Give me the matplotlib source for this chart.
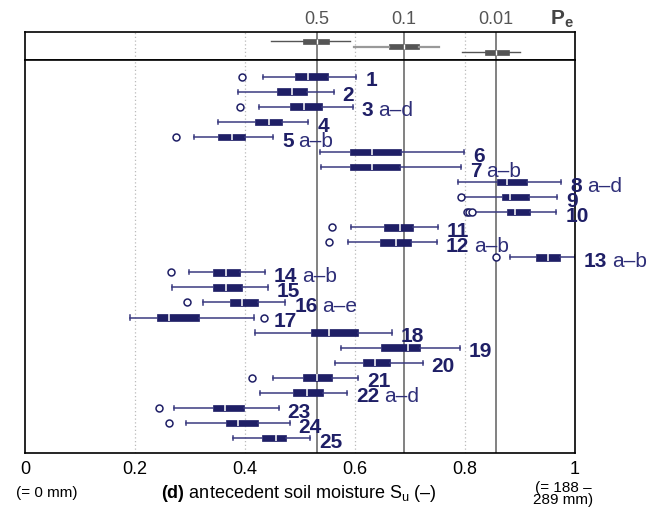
import matplotlib
matplotlib.use("Agg")
import matplotlib.pyplot as plt
from matplotlib import font_manager

plt.rcParams["font.family"] = ["Liberation Sans", "DejaVu Sans"]
plt.rcParams["mathtext.fontset"] = "custom"
plt.rcParams["mathtext.rm"] = "Liberation Sans"
plt.rcParams["mathtext.bf"] = "Liberation Sans:bold"

installed = {f.name for f in font_manager.fontManager.ttflist}
if "Liberation Sans Narrow" in installed:
    LABEL_FONT, LABEL_SIZE = ["Liberation Sans Narrow", "DejaVu Sans"], 17.5
else:
    LABEL_FONT, LABEL_SIZE = ["Liberation Sans", "DejaVu Sans"], 15

# antecedent soil moisture per event group (horizontal boxplots)
whislo = [0.433, 0.388, 0.425, 0.350, 0.308, 0.536, 0.539, 0.787, 0.799, 0.815,
          0.592, 0.587, 0.881, 0.299, 0.268, 0.324, 0.190, 0.418, 0.574, 0.564,
          0.451, 0.428, 0.270, 0.292, 0.379]
q1 = [0.491, 0.458, 0.482, 0.418, 0.350, 0.590, 0.590, 0.859, 0.867, 0.876,
      0.653, 0.646, 0.929, 0.342, 0.342, 0.373, 0.240, 0.520, 0.647, 0.614,
      0.505, 0.487, 0.341, 0.365, 0.430]
med = [0.514, 0.485, 0.507, 0.444, 0.376, 0.630, 0.630, 0.876, 0.882, 0.891,
       0.681, 0.674, 0.951, 0.366, 0.366, 0.395, 0.261, 0.553, 0.697, 0.636,
       0.530, 0.512, 0.364, 0.387, 0.456]
q3 = [0.550, 0.512, 0.540, 0.467, 0.400, 0.684, 0.681, 0.912, 0.916, 0.919,
      0.705, 0.702, 0.973, 0.391, 0.394, 0.424, 0.316, 0.605, 0.718, 0.663,
      0.558, 0.541, 0.398, 0.423, 0.475]
whishi = [0.602, 0.561, 0.596, 0.515, 0.451, 0.799, 0.792, 0.975, 0.967, 0.966,
          0.750, 0.749, 1.000, 0.436, 0.441, 0.473, 0.416, 0.667, 0.790, 0.723,
          0.606, 0.585, 0.461, 0.481, 0.519]
outliers = {1: [0.394], 3: [0.391], 5: [0.274], 9: [0.793],
            10: [0.803, 0.808, 0.813], 11: [0.559], 12: [0.552], 13: [0.856],
            14: [0.266], 16: [0.295], 17: [0.435], 21: [0.413], 23: [0.244],
            24: [0.262]}
suffixes = {3: "a\u2013d", 5: "a\u2013b", 7: "a\u2013b", 8: "a\u2013d", 12: "a\u2013b",
            13: "a\u2013b", 14: "a\u2013b", 16: "a\u2013e", 22: "a\u2013d"}

# exceedance probability reference boxes (top panel)
pe_labels = ["0.5", "0.1", "0.01"]
pe_whislo = [0.447, 0.599, 0.795]
pe_q1 = [0.506, 0.662, 0.836]
pe_med = [0.531, 0.689, 0.856]
pe_q3 = [0.553, 0.716, 0.880]
pe_whishi = [0.591, 0.752, 0.900]
pe_rows = [0.33, 0.52, 0.72]

tick_vals = [0, 0.2, 0.4, 0.6, 0.8, 1]
tick_labels = ["0", "0.2", "0.4", "0.6", "0.8", "1"]

NAVY = "#1f1f66"
W, H = 659, 512

fig = plt.figure(figsize=(W / 100, H / 100), dpi=100)
left, right = 25 / W, 575 / W
y_sep, y_top, y_bot = 1 - 60.3 / H, 1 - 32 / H, 1 - 453 / H
ax_top = fig.add_axes([left, y_sep, right - left, y_top - y_sep])
ax = fig.add_axes([left, y_bot, right - left, y_sep - y_bot])

for a in (ax, ax_top):
    a.set_xlim(0, 1)
    for v in [0.2, 0.4, 0.6, 0.8]:
        a.axvline(v, color="#bbbbbb", lw=0.9, ls=(0, (1, 2)), zorder=0)
    for v in pe_med:
        a.axvline(v, color="#777777", lw=1.3, zorder=1)
    a.set_yticks([])
    for s in a.spines.values():
        s.set_linewidth(1.2)

# top panel
pe_stats = [dict(whislo=lo, q1=a, med=m, q3=b, whishi=hi, fliers=[])
            for lo, a, m, b, hi in zip(pe_whislo, pe_q1, pe_med, pe_q3, pe_whishi)]
bp = ax_top.bxp(pe_stats, positions=pe_rows, widths=0.17, orientation="horizontal",
                patch_artist=True, showcaps=False, manage_ticks=False,
                boxprops=dict(facecolor="#555555", edgecolor="#555555", lw=0.5),
                medianprops=dict(color="white", lw=1),
                whiskerprops=dict(color="#555555", lw=1))
for i, w in enumerate(bp["whiskers"]):
    if i // 2 == 1:
        w.set_color("#999999")
        w.set_linewidth(1.6)
ax_top.set_ylim(1, 0)
ax_top.set_xticks([])

# main panel
rows = list(range(1, len(med) + 1))
stats = [dict(whislo=whislo[i], q1=q1[i], med=med[i], q3=q3[i], whishi=whishi[i],
              fliers=outliers.get(i + 1, [])) for i in range(len(med))]
ax.bxp(stats, positions=rows, widths=0.44, orientation="horizontal",
       patch_artist=True, manage_ticks=False, capwidths=0.28,
       boxprops=dict(facecolor=NAVY, edgecolor=NAVY, lw=0.5),
       medianprops=dict(color="white", lw=1.1),
       whiskerprops=dict(color="#3a3a80", lw=1.1),
       capprops=dict(color="#3a3a80", lw=1.1),
       flierprops=dict(marker="o", markersize=5, markerfacecolor="white",
                       markeredgecolor=NAVY, markeredgewidth=1.1))
ax.set_ylim(26, -0.09)

for i, r in enumerate(rows):
    xmax = max([whishi[i]] + outliers.get(r, []))
    t = ax.annotate(str(r), xy=(xmax, r), xytext=(6.5, -3), textcoords="offset points",
                    ha="left", va="center", fontsize=LABEL_SIZE, fontweight="bold",
                    family=LABEL_FONT, color=NAVY, annotation_clip=False)
    if r in suffixes:
        ax.annotate(suffixes[r], xy=(1, 0.5), xycoords=t, xytext=(3.5, 0),
                    textcoords="offset points", ha="left", va="center",
                    fontsize=LABEL_SIZE, family=LABEL_FONT, color="#2e2e78",
                    annotation_clip=False)

ax.set_xticks(tick_vals)
ax.set_xticklabels(tick_labels, fontsize=13)
ax.tick_params(axis="x", length=0, pad=6)

# probability labels above top panel
for v, lab in zip(pe_med, pe_labels):
    ax_top.text(v, 1.45, lab, transform=ax_top.get_xaxis_transform(), ha="center",
                va="center", fontsize=13, color="#555555")
ax_top.text(562 / W, 1 - 19 / H, "$\\mathbf{P_e}$", transform=fig.transFigure,
            ha="center", va="center", fontsize=15, color="#444444")

fig.text(47 / W, 1 - 493 / H, "(= 0 mm)", ha="center", va="center", fontsize=11)
fig.text(299 / W, 1 - 493 / H,
         "$\\mathbf{(d)}$ antecedent soil moisture S$_\\mathregular{u}$ (\u2013)",
         ha="center", va="center", fontsize=13)
fig.text(563 / W, 1 - 494 / H, "(= 188 \u2013\n289 mm)", ha="center", va="center",
         fontsize=11, linespacing=0.85)

fig.savefig("out.png", dpi=100)
